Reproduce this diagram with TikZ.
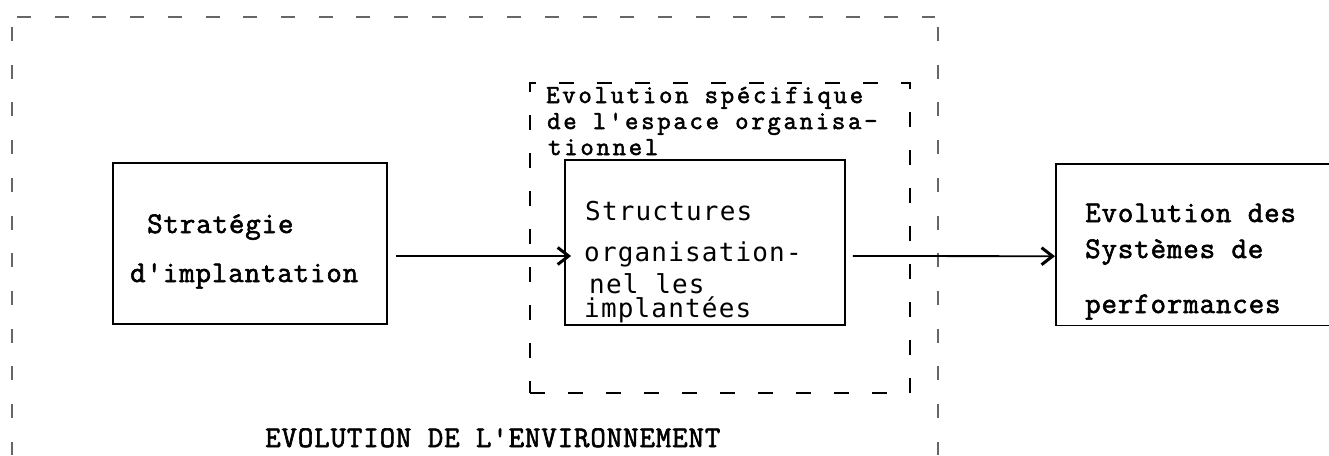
\documentclass[tikz,border=0pt]{standalone}
\usepackage{fontspec}
\usetikzlibrary{arrows.meta}
% typewriter faces: a serif typewriter and a sans mono
\newfontfamily\twfont{Latin Modern Mono}[LetterSpace=3,FakeBold=2]
\newfontfamily\twfontnarrow{Latin Modern Mono}[LetterSpace=10.5,FakeBold=2]
\newfontfamily\sansmono{DejaVu Sans Mono}[LetterSpace=4.5]
\begin{document}
\begin{tikzpicture}[x=1pt,y=-1pt,
  plainbox/.style={draw=black,line width=1.8pt,minimum width=#1},
  framedash/.style={draw=black!60,line width=2.2pt,dash pattern=on 14pt off 23.7pt},
  innerdash/.style={draw=black,line width=2pt,dash pattern=on 15pt off 23pt},
  twtext/.style={anchor=base west,inner sep=0pt,font=\twfont\fontsize{30}{30}\selectfont},
  twsmall/.style={anchor=base west,inner sep=0pt,font=\twfontnarrow\fontsize{26}{26}\selectfont},
  sftext/.style={anchor=base west,inner sep=0pt,font=\sansmono\fontsize{26}{26}\selectfont},
  conn/.style={line width=1.8pt,-{Straight Barb[length=11pt,width=17pt,line width=3pt]}}
]
\useasboundingbox (0,0) rectangle (1329,455);

% environment frame, open at the bottom
\draw[framedash] (17,17) -- (935,17);
\draw[framedash] (12,27) -- (12,455);
\draw[framedash] (938,27) -- (938,455);
\node[twtext] (envlabel) at (265,447) {EVOLUTION DE L'ENVIRONNEMENT};

% organisational space (dashed)
\node[innerdash,minimum width=380,minimum height=310,inner sep=0pt] (espace) at (720,238) {};
\node[twsmall] (esp1) at (546,103) {Evolution spécifique};
\node[twsmall] (esp2) at (547,129) {de l'espace organisa-};
\node[twsmall] (esp3) at (548,155) {tionnel};

% strategy box
\node[plainbox=274,minimum height=161,inner sep=0pt] (strat) at (250,243.5) {};
\node[twtext] (strat1) at (147,233) {Stratégie};
\node[twtext] (strat2) at (130,282) {d'implantation};

% implemented structures box
\node[plainbox=280,minimum height=165,inner sep=0pt] (struct) at (705,242.5) {};
\node[sftext] (st1) at (585,220) {Structures};
\node[sftext] (st2) at (584,261) {organisation-};
\node[sftext] (st3) at (589,293) {nel les};
\node[sftext] (st4) at (584,317) {implantées};

% performance systems box, open on the right
\node[minimum width=290,minimum height=161,inner sep=0pt,anchor=north west] (perf) at (1056,164) {};
\draw[line width=1.8pt] (perf.north east) -- (perf.north west) -- (perf.south west) -- (perf.south east);
\node[twtext] (perf1) at (1085,222) {Evolution des};
\node[twtext] (perf2) at (1085,258) {Systèmes de};
\node[twtext] (perf3) at (1085,313) {performances};

% connectors
\draw[conn,shorten <=8pt] ([yshift=-12.5pt]strat.east) -- ([xshift=7pt,yshift=-13.5pt]struct.west);
\draw[conn,shorten <=7pt,shorten >=1pt] ([yshift=-13.5pt]struct.east) -- ([yshift=-11.5pt]perf.west);
\end{tikzpicture}
\end{document}
